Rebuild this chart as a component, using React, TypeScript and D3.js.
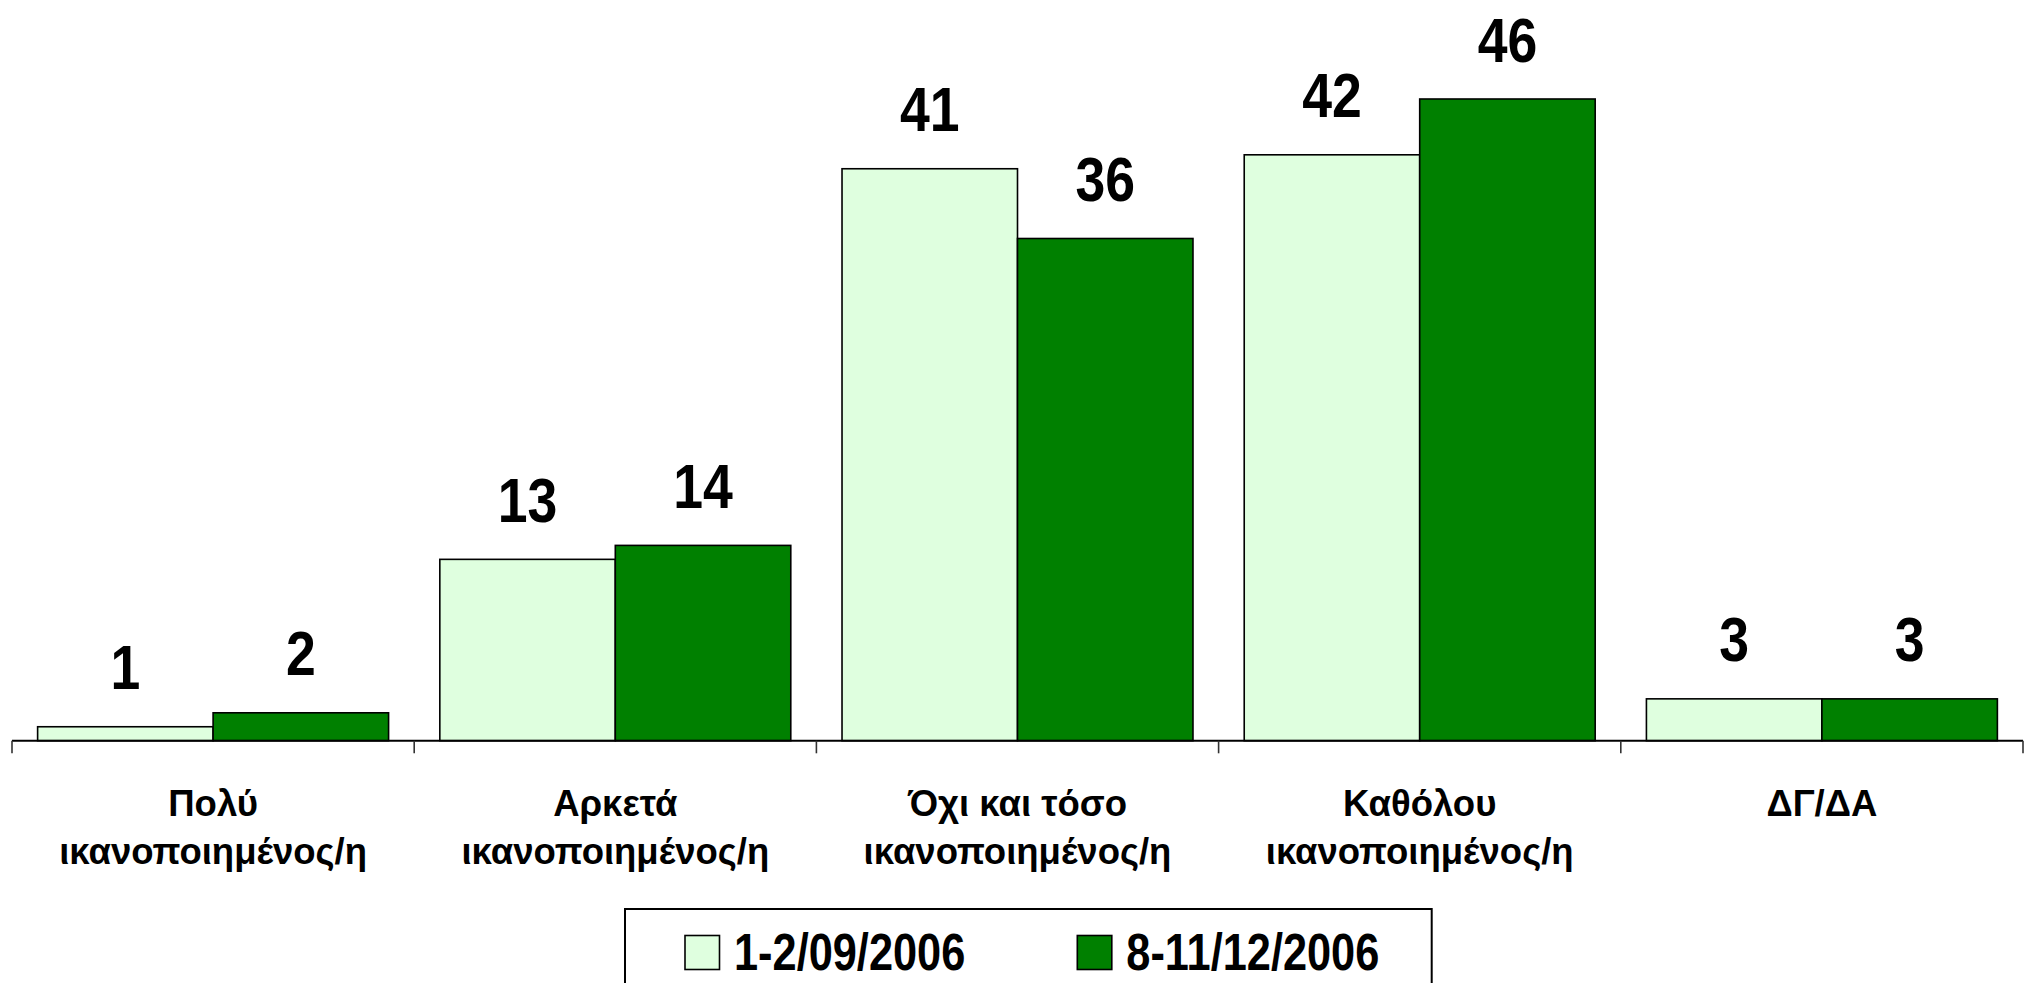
import React from "react";
import * as d3 from "d3";

const categories = ["Πολύ ικανοποιημένος/η", "Αρκετά ικανοποιημένος/η", "Όχι και τόσο ικανοποιημένος/η", "Καθόλου ικανοποιημένος/η", "ΔΓ/ΔΑ"];
const categoryLines = [
  ["Πολύ", "ικανοποιημένος/η"],
  ["Αρκετά", "ικανοποιημένος/η"],
  ["Όχι και τόσο", "ικανοποιημένος/η"],
  ["Καθόλου", "ικανοποιημένος/η"],
  ["ΔΓ/ΔΑ"],
];
const seriesNames = ["1-2/09/2006", "8-11/12/2006"];
const seriesSep = [1, 13, 41, 42, 3];
const seriesDec = [2, 14, 36, 46, 3];
const seriesValues = [seriesSep, seriesDec];
const seriesColors = ["#DFFFDF", "#008000"];

const W = 2031;
const H = 983;

export default function App() {
  const x0 = d3.scaleBand<string>().domain(categories).range([12, 2023]).padding(0);
  const x1 = d3
    .scaleBand<string>()
    .domain(seriesNames)
    .range([0, x0.bandwidth()])
    .paddingInner(0)
    .paddingOuter(0.146);
  const y = d3.scaleLinear().domain([0, 50]).range([740.7, 43.2]);
  const base = y(0);
  const numFont = "'Liberation Sans', Arial, sans-serif";
  const sx = 0.85;

  const ticks = categories.map((c) => x0(c) as number).concat([x0.range()[1]]);

  return (
    <svg
      width={W}
      height={H}
      viewBox={`0 0 ${W} ${H}`}
      style={{ position: "absolute", left: 0, top: 0, background: "#fff" }}
    >
      <rect x={0} y={0} width={W} height={H} fill="#fff" />
      {categories.map((c, ci) => (
        <g key={c} transform={`translate(${x0(c)},0)`}>
          {seriesNames.map((s, si) => {
            const v = seriesValues[si][ci];
            const bx = x1(s) as number;
            const bw = x1.bandwidth();
            const ty = y(v);
            return (
              <g key={s}>
                <rect
                  x={bx}
                  y={ty}
                  width={bw}
                  height={base - ty}
                  fill={seriesColors[si]}
                  stroke="#000"
                  strokeWidth={1.6}
                />
                <g transform={`translate(${bx + bw / 2},${ty - 37.5}) scale(${sx},1)`}>
                  <text
                    x={0}
                    y={0}
                    textAnchor="middle"
                    fontFamily={numFont}
                    fontWeight="bold"
                    fontSize={63}
                    fill="#000"
                  >
                    {v}
                  </text>
                </g>
              </g>
            );
          })}
        </g>
      ))}
      <line x1={12} x2={2023} y1={base} y2={base} stroke="#000" strokeWidth={2} />
      {ticks.map((t, i) => (
        <line key={i} x1={t} x2={t} y1={base} y2={base + 12.6} stroke="#333" strokeWidth={1.6} />
      ))}
      {categories.map((c, ci) => (
        <text
          key={c}
          x={(x0(c) as number) + x0.bandwidth() / 2}
          y={815.7}
          textAnchor="middle"
          fontFamily={numFont}
          fontWeight="bold"
          fontSize={36.5}
          fill="#000"
        >
          {categoryLines[ci].map((line, li) => (
            <tspan key={li} x={(x0(c) as number) + x0.bandwidth() / 2} dy={li === 0 ? 0 : 48.3}>
              {line}
            </tspan>
          ))}
        </text>
      ))}
      <rect x={625} y={909} width={806.7} height={120} fill="#fff" stroke="#000" strokeWidth={2} />
      {seriesNames.map((s, si) => {
        const lx = si === 0 ? 685 : 1077.3;
        return (
          <g key={s}>
            <rect x={lx} y={935.5} width={34.5} height={34} fill={seriesColors[si]} stroke="#000" strokeWidth={1.6} />
            <g transform={`translate(${lx + 49},970) scale(${sx},1)`}>
              <text x={0} y={0} fontFamily={numFont} fontWeight="bold" fontSize={51} fill="#000">
                {s}
              </text>
            </g>
          </g>
        );
      })}
    </svg>
  );
}
